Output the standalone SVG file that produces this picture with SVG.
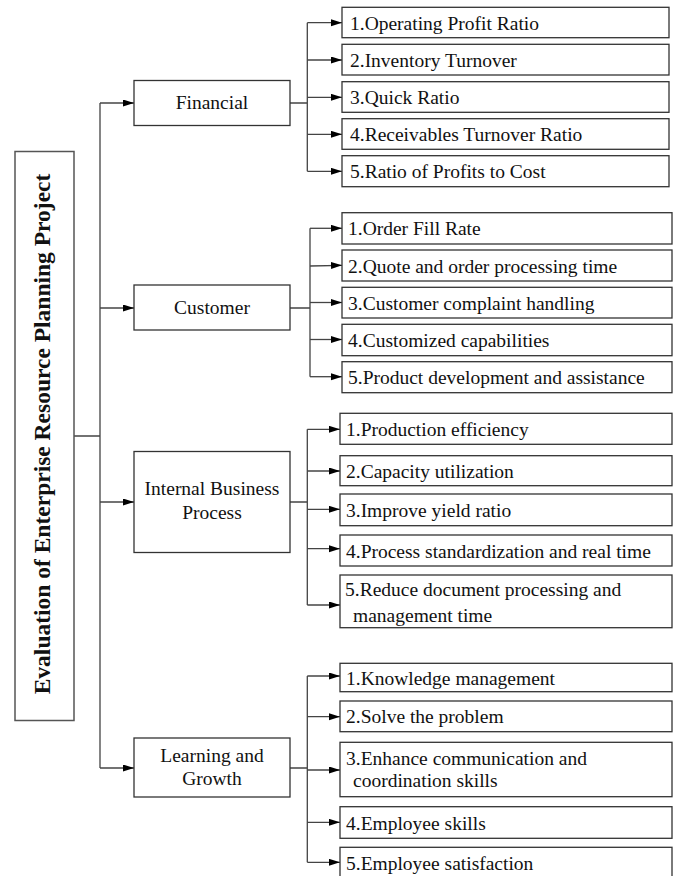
<svg xmlns="http://www.w3.org/2000/svg" width="682" height="876" viewBox="0 0 682 876">
<style>
.box{fill:#fff;stroke:#333;stroke-width:1.3}
.root{fill:#fff;stroke:#555;stroke-width:1.5}
.t{font-family:"Liberation Serif","Times New Roman",serif;font-size:19.5px;fill:#111}
.c{text-anchor:middle}
.rt{font-family:"Liberation Serif","Times New Roman",serif;font-size:23.5px;font-weight:bold;fill:#111;text-anchor:middle}
.ln{fill:none;stroke:#444;stroke-width:1.3}
.ar{fill:none;stroke:#444;stroke-width:1.3;marker-end:url(#ah)}
</style>
<defs>
<marker id="ah" markerUnits="userSpaceOnUse" markerWidth="12" markerHeight="8" refX="11" refY="3.5" orient="auto">
<path d="M0,0 L11,3.5 L0,7 z" fill="#000"/>
</marker>
</defs>
<rect width="682" height="876" fill="#fff"/>
<g id="connectors">
<path class="ln" d="M74,436 H100 M100,103 V768"/>
<path class="ar" d="M100,103 H134"/>
<path class="ar" d="M100,308 H134"/>
<path class="ar" d="M100,502 H134"/>
<path class="ar" d="M100,768 H134"/>
<path class="ln" d="M290,103 H307.3 M307.3,22.7 V171.3"/>
<path class="ar" d="M307.3,22.7 H342"/>
<path class="ar" d="M307.3,60 H342"/>
<path class="ar" d="M307.3,97.3 H342"/>
<path class="ar" d="M307.3,134.3 H342"/>
<path class="ar" d="M307.3,171.3 H342"/>
<path class="ln" d="M290,308 H310 M310,228.3 V376.7"/>
<path class="ar" d="M310,228.3 H342"/>
<path class="ar" d="M310,266 L342,265.3"/>
<path class="ar" d="M310,302.5 H342"/>
<path class="ar" d="M310,339.5 H342"/>
<path class="ar" d="M310,376.7 H342"/>
<path class="ln" d="M290,502 H307.3 M307.3,429.3 V605"/>
<path class="ar" d="M307.3,429.3 H340"/>
<path class="ar" d="M307.3,471 H340"/>
<path class="ar" d="M307.3,509.3 H340"/>
<path class="ar" d="M307.3,548.7 H340"/>
<path class="ar" d="M307.3,605 H340"/>
<path class="ln" d="M290,768 H307.3 M307.3,676 V862.3"/>
<path class="ar" d="M307.3,676 H340"/>
<path class="ar" d="M307.3,716.7 H340"/>
<path class="ar" d="M307.3,770 H340"/>
<path class="ar" d="M307.3,822.3 H340"/>
<path class="ar" d="M307.3,862.3 H340"/>
</g>
<g id="root">
<rect class="root" x="15" y="151.5" width="59" height="569"/>
<text class="rt" transform="translate(50,434) rotate(-90)">Evaluation of Enterprise Resource Planning Project</text>
</g>
<g id="financial">
<rect class="box" x="134" y="80.5" width="156" height="45"/>
<text class="t c" x="212" y="109">Financial</text>
</g>
<g id="customer">
<rect class="box" x="134" y="285" width="156" height="45"/>
<text class="t c" x="212" y="313.5">Customer</text>
</g>
<g id="internal">
<rect class="box" x="134" y="451.5" width="156" height="101"/>
<text class="t c" x="212" y="495">Internal Business</text>
<text class="t c" x="212" y="518.5">Process</text>
</g>
<g id="learning">
<rect class="box" x="134" y="738" width="156" height="59"/>
<text class="t c" x="212" y="761.5">Learning and</text>
<text class="t c" x="212" y="785">Growth</text>
</g>
<g id="f1"><rect class="box" x="342" y="7.3" width="327" height="30.4"/><text class="t" x="350" y="29.7">1.Operating Profit Ratio</text></g>
<g id="f2"><rect class="box" x="342" y="44.3" width="327" height="30.7"/><text class="t" x="350" y="66.8">2.Inventory Turnover</text></g>
<g id="f3"><rect class="box" x="342" y="81.7" width="327" height="30.6"/><text class="t" x="350" y="104">3.Quick Ratio</text></g>
<g id="f4"><rect class="box" x="342" y="118.7" width="327" height="30.6"/><text class="t" x="350" y="141">4.Receivables Turnover Ratio</text></g>
<g id="f5"><rect class="box" x="342" y="155.7" width="327" height="31"/><text class="t" x="350" y="178.2">5.Ratio of Profits to Cost</text></g>
<g id="c1"><rect class="box" x="342" y="212.7" width="330" height="31.3"/><text class="t" x="348" y="235.3">1.Order Fill Rate</text></g>
<g id="c2"><rect class="box" x="342" y="250" width="330" height="31"/><text class="t" x="348" y="272.5">2.Quote and order processing time</text></g>
<g id="c3"><rect class="box" x="342" y="287.3" width="330" height="30.7"/><text class="t" x="348" y="309.7">3.Customer complaint handling</text></g>
<g id="c4"><rect class="box" x="342" y="324.3" width="330" height="31.4"/><text class="t" x="348" y="347">4.Customized capabilities</text></g>
<g id="c5"><rect class="box" x="342" y="361.7" width="330" height="31"/><text class="t" x="348" y="384.2">5.Product development and assistance</text></g>
<g id="i1"><rect class="box" x="340" y="413.3" width="332" height="31"/><text class="t" x="346" y="435.8">1.Production efficiency</text></g>
<g id="i2"><rect class="box" x="340" y="455.7" width="332" height="30"/><text class="t" x="346" y="477.7">2.Capacity utilization</text></g>
<g id="i3"><rect class="box" x="340" y="494" width="332" height="31.7"/><text class="t" x="346" y="516.8">3.Improve yield ratio</text></g>
<g id="i4"><rect class="box" x="340" y="535" width="332" height="31"/><text class="t" x="346" y="557.5">4.Process standardization and real time</text></g>
<g id="i5"><rect class="box" x="340" y="575" width="332" height="52.7"/><text class="t" x="345" y="596">5.Reduce document processing and</text><text class="t" x="353" y="621.5">management time</text></g>
<g id="l1"><rect class="box" x="340" y="663.3" width="332" height="28.4"/><text class="t" x="346" y="684.5">1.Knowledge management</text></g>
<g id="l2"><rect class="box" x="340" y="701" width="332" height="30.7"/><text class="t" x="346" y="723.3">2.Solve the problem</text></g>
<g id="l3"><rect class="box" x="340" y="742.3" width="332" height="54.4"/><text class="t" x="346" y="765">3.Enhance communication and</text><text class="t" x="353" y="786.7">coordination skills</text></g>
<g id="l4"><rect class="box" x="340" y="806.7" width="332" height="31.6"/><text class="t" x="346" y="829.5">4.Employee skills</text></g>
<g id="l5"><rect class="box" x="340" y="847.3" width="332" height="31"/><text class="t" x="346" y="869.5">5.Employee satisfaction</text></g>
</svg>
